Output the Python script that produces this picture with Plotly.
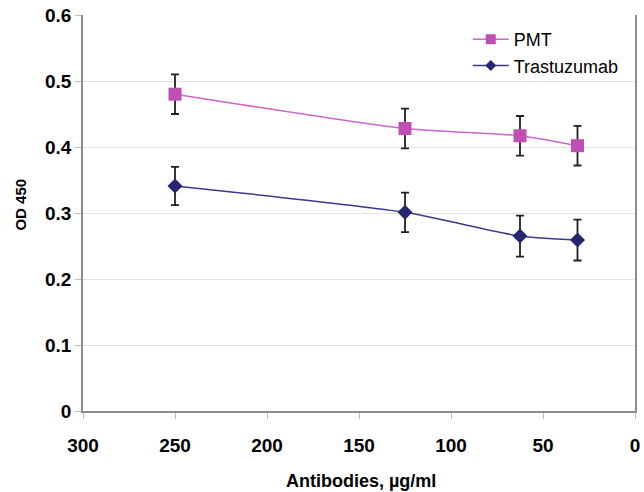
import plotly.graph_objects as go

concentrations = [250, 125, 62.5, 31.25]
pmt_values = [0.480, 0.428, 0.417, 0.402]
pmt_errors = [0.030, 0.030, 0.030, 0.030]
tras_values = [0.341, 0.301, 0.265, 0.259]
tras_errors = [0.029, 0.030, 0.031, 0.031]
series_names = ["PMT", "Trastuzumab"]
x_ticks = [300, 250, 200, 150, 100, 50, 0]
y_ticks = [0, 0.1, 0.2, 0.3, 0.4, 0.5, 0.6]
y_ticktext = ["0", "0.1", "0.2", "0.3", "0.4", "0.5", "0.6"]

font_family = "Liberation Sans, Arial, sans-serif"
pmt_line = "#CC66CC"
pmt_marker = "#C04FB4"
tras_line = "#3A3A8C"
tras_marker = "#262673"

fig = go.Figure()
fig.add_trace(go.Scatter(
    x=concentrations, y=pmt_values, name=series_names[0], mode="lines+markers",
    line=dict(color=pmt_line, width=1.5, shape="spline", smoothing=0.6),
    marker=dict(symbol="square", size=13, color=pmt_marker),
    error_y=dict(type="data", array=pmt_errors, color="#222222", thickness=1.8, width=4),
    showlegend=False,
))
fig.add_trace(go.Scatter(
    x=concentrations, y=tras_values, name=series_names[1], mode="lines+markers",
    line=dict(color=tras_line, width=1.5, shape="spline", smoothing=0.6),
    marker=dict(symbol="diamond", size=11.5, color=tras_marker),
    error_y=dict(type="data", array=tras_errors, color="#222222", thickness=1.8, width=4),
    showlegend=False,
))
# legend entries (smaller symbols, as in the reference legend)
fig.add_trace(go.Scatter(
    x=[None], y=[None], name=series_names[0], mode="lines+markers",
    line=dict(color=pmt_line, width=1.5),
    marker=dict(symbol="square", size=10, color=pmt_marker),
))
fig.add_trace(go.Scatter(
    x=[None], y=[None], name=series_names[1], mode="lines+markers",
    line=dict(color=tras_line, width=1.5),
    marker=dict(symbol="diamond", size=8.5, color=tras_marker),
))

fig.update_layout(
    width=644, height=492,
    margin=dict(l=83, r=9, t=15, b=81),
    paper_bgcolor="white", plot_bgcolor="white",
    font=dict(family=font_family, color="black"),
    legend=dict(x=0.697, y=0.985, xanchor="left", yanchor="top",
                font=dict(size=18, family=font_family), bgcolor="rgba(0,0,0,0)",
                tracegroupgap=0, itemwidth=36),
    showlegend=True,
    annotations=[
        dict(text="<b>OD 450</b>", xref="paper", yref="paper", x=-0.1132, y=0.52,
             xanchor="center", yanchor="middle", textangle=-90, showarrow=False,
             font=dict(size=15, family=font_family, color="black")),
        dict(text="<b>Antibodies, µg/ml</b>", xref="paper", yref="paper", x=0.5036, y=-0.1768,
             xanchor="center", yanchor="middle", showarrow=False,
             font=dict(size=18, family=font_family, color="black")),
    ],
)
fig.update_xaxes(
    range=[300, 0], tickmode="array", tickvals=x_ticks,
    showgrid=False, showline=True, linecolor="#8C8C8C", linewidth=1.5,
    ticks="outside", ticklen=6, tickcolor="#BBBBBB", ticklabelstandoff=10,
    tickfont=dict(size=19, family=font_family, weight="bold"),
    zeroline=False, automargin=False,
)
fig.update_yaxes(
    range=[0, 0.6], tickmode="array", tickvals=y_ticks, ticktext=y_ticktext,
    showgrid=True, gridcolor="#E3E3E3", gridwidth=1,
    showline=True, linecolor="#8C8C8C", linewidth=1.5, mirror=True,
    ticks="outside", ticklen=6, tickcolor="#BBBBBB",
    tickfont=dict(size=19, family=font_family, weight="bold"),
    zeroline=False, automargin=False,
)

fig.write_html("out.html", config={"displayModeBar": False},
               post_script="document.body.style.margin='0';")
